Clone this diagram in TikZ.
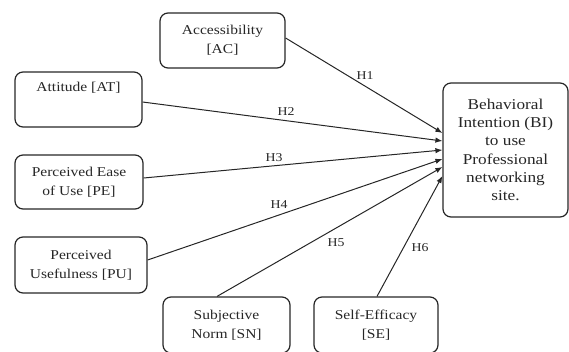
\documentclass[tikz,border=0pt]{standalone}
\usepackage{fontspec}
\setmainfont[FakeStretch=1.15]{Liberation Serif}
\usetikzlibrary{arrows.meta,calc}
\begin{document}
\begin{tikzpicture}[x=1pt,y=-1pt,
  box/.style={draw=black!85, line width=1.2pt, rounded corners=8pt, align=center,
    inner sep=0pt, text=black!85, font=\fontsize{13.5}{19}\selectfont},
  link/.style={draw=black!85, line width=1pt, -{Latex[length=7pt,width=5.5pt]}},
  hyp/.style={font=\fontsize{12}{14}\selectfont, text=black!85, inner sep=0pt}]
\useasboundingbox (0,0) rectangle (569,351);
\clip (0,0) rectangle (569,351);

\node[box, minimum width=125pt, minimum height=55pt] (AC) at (222.5,40.5) {Accessibility\\{[AC]}};
\node[box, minimum width=127pt, minimum height=55pt] (AT) at (78.5,99.5) {Attitude [AT]\\\strut};
\node[box, minimum width=128pt, minimum height=54pt] (PE) at (79,182) {Perceived Ease\\of Use [PE]};
\node[box, minimum width=132pt, minimum height=56pt] (PU) at (81,265) {Perceived\\Usefulness [PU]};
\node[box, minimum width=127pt, minimum height=56pt] (SN) at (226.5,325) {Subjective\\Norm [SN]};
\node[box, minimum width=124pt, minimum height=56pt] (SE) at (376,325) {Self-Efficacy\\{[SE]}};
\node[box, minimum width=125pt, minimum height=134pt, font=\fontsize{15}{18.3}\selectfont] (BI) at (505.5,150)
  {Behavioral\\Intention (BI)\\to use\\Professional\\networking\\site.};

\draw[link] ($(AC.east)+(0,-2.5)$) -- ($(BI.west)+(0,-17)$);
\draw[link] ($(AT.east)+(0,2.5)$) -- ($(BI.west)+(0,-9)$);
\draw[link] ($(PE.east)+(0,-4)$) -- (BI.west);
\draw[link] ($(PU.east)+(0,-5)$) -- ($(BI.west)+(0,9)$);
\draw[link] ($(SN.north)+(-9.5,0)$) -- ($(BI.west)+(0,17)$);
\draw[link] ($(SE.north)+(1,0)$) -- ($(BI.west)+(0,26)$);

\node[hyp] (h1) at (365,76) {H1};
\node[hyp] (h2) at (286,112) {H2};
\node[hyp] (h3) at (274,158) {H3};
\node[hyp] (h4) at (279,205) {H4};
\node[hyp] (h5) at (336,243) {H5};
\node[hyp] (h6) at (420,248) {H6};
\end{tikzpicture}
\end{document}
